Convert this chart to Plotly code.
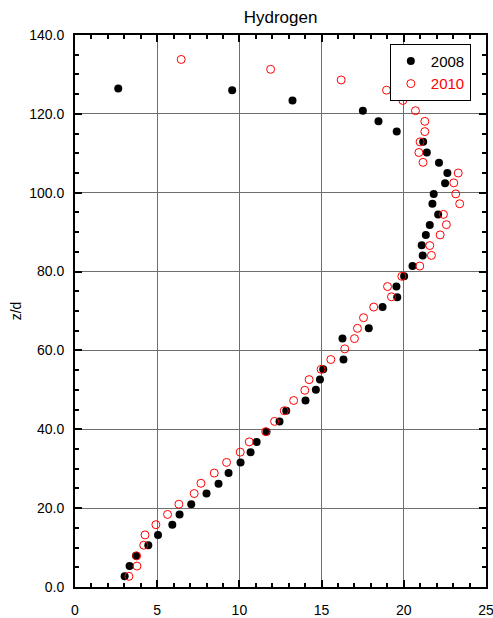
import plotly.graph_objects as go

# 2008 series (filled black)
x2008 = [3.02, 3.32, 3.71, 4.46, 5.05, 5.92, 6.36, 7.07, 8.0, 8.73, 9.34, 10.07, 10.68, 11.05, 11.65,
         12.44, 12.85, 14.02, 14.65, 14.9, 15.1, 16.33, 16.27, 17.87, 18.71, 19.6, 19.55, 20.02,
         20.53, 21.15, 21.09, 21.34, 21.58, 22.09, 21.74, 21.82, 22.51, 22.65, 22.14, 21.4, 21.18,
         19.57, 18.46, 17.51, 13.23, 9.56, 2.63]
y2008 = [2.7, 5.3, 7.9, 10.6, 13.2, 15.8, 18.4, 21.0, 23.7, 26.2, 28.9, 31.6, 34.2, 36.8, 39.4,
         42.0, 44.7, 47.3, 50.0, 52.6, 55.2, 57.7, 63.0, 65.6, 71.0, 73.5, 76.2, 78.8,
         81.4, 84.1, 86.7, 89.3, 91.8, 94.5, 97.2, 99.7, 102.4, 105.0, 107.6, 110.2, 112.9,
         115.5, 118.1, 120.8, 123.4, 126.0, 126.4]

# 2010 series (open red)
x2010 = [3.28, 3.77, 3.75, 4.18, 4.26, 4.92, 5.63, 6.32, 7.25, 7.66, 8.47, 9.22, 10.05, 10.6, 11.6,
         12.14, 12.73, 13.3, 13.98, 14.24, 14.97, 15.56, 16.41, 17.0, 17.18, 17.55, 18.17, 19.25,
         19.01, 19.88, 20.97, 21.68, 21.58, 22.21, 22.59, 22.41, 23.4, 23.16, 23.04, 23.31, 21.17,
         20.92, 20.99, 21.28, 21.28, 20.71, 19.94, 18.95, 16.19, 11.9, 6.46]
y2010 = [2.7, 5.3, 7.9, 10.6, 13.2, 15.8, 18.4, 21.0, 23.7, 26.3, 28.9, 31.6, 34.2, 36.8, 39.4,
         42.0, 44.7, 47.3, 49.9, 52.6, 55.2, 57.7, 60.4, 63.0, 65.6, 68.3, 71.0, 73.6,
         76.2, 78.8, 81.4, 84.1, 86.6, 89.3, 91.9, 94.5, 97.2, 99.7, 102.5, 105.0, 107.7,
         110.2, 112.9, 115.5, 118.1, 120.8, 123.4, 126.0, 128.6, 131.3, 133.8]

xticks = [0, 5, 10, 15, 20, 25]
yticks = [0, 20, 40, 60, 80, 100, 120, 140]

fig = go.Figure()
fig.add_trace(go.Scatter(x=x2008, y=y2008, mode="markers", name="2008",
                         marker=dict(symbol="circle", size=8, color="black")))
fig.add_trace(go.Scatter(x=x2010, y=y2010, mode="markers",
                         name="<span style='color:red'>2010</span>",
                         marker=dict(symbol="circle-open", size=8, color="red",
                                     line=dict(width=1, color="red"))))

font = "Liberation Sans, Arial, sans-serif"
fig.update_layout(
    width=493, height=618,
    margin=dict(l=75, r=7, t=35, b=31),
    paper_bgcolor="white", plot_bgcolor="white",
    font=dict(family=font, size=14, color="black"),
    title=dict(text="Hydrogen", x=0.569, xanchor="center", y=0.972, yanchor="middle",
               font=dict(family=font, size=17, color="black")),
    showlegend=True,
    legend=dict(x=0.766, y=0.984, xanchor="left", yanchor="top",
                bordercolor="black", borderwidth=1, bgcolor="white",
                font=dict(family=font, size=15, color="black"),
                itemwidth=30, tracegroupgap=0),
)
fig.update_xaxes(
    range=[0, 25], tickvals=xticks, ticktext=[str(v) for v in xticks],
    showgrid=True, gridcolor="#6e6e6e", gridwidth=1,
    showline=True, linecolor="black", linewidth=2, mirror="allticks",
    ticks="inside", ticklen=7, tickwidth=2, tickcolor="black",
    minor=dict(dtick=1, ticks="inside", ticklen=4, tickwidth=2, tickcolor="black", showgrid=False),
    zeroline=False, tickfont=dict(size=14), ticklabelstandoff=9, automargin=False,
    ticklabeloverflow="allow",
)
fig.update_yaxes(
    range=[0, 140], tickvals=yticks, ticktext=[f"{v:.1f}" for v in yticks],
    showgrid=True, gridcolor="#6e6e6e", gridwidth=1,
    showline=True, linecolor="black", linewidth=2, mirror="allticks",
    ticks="inside", ticklen=7, tickwidth=2, tickcolor="black",
    minor=dict(dtick=5, ticks="inside", ticklen=4, tickwidth=2, tickcolor="black", showgrid=False),
    zeroline=False, tickfont=dict(size=14), ticklabelstandoff=6, automargin=False,
    ticklabeloverflow="allow",
    title=dict(text="z/d", font=dict(size=14), standoff=4),
)
fig.write_html("out.html")
